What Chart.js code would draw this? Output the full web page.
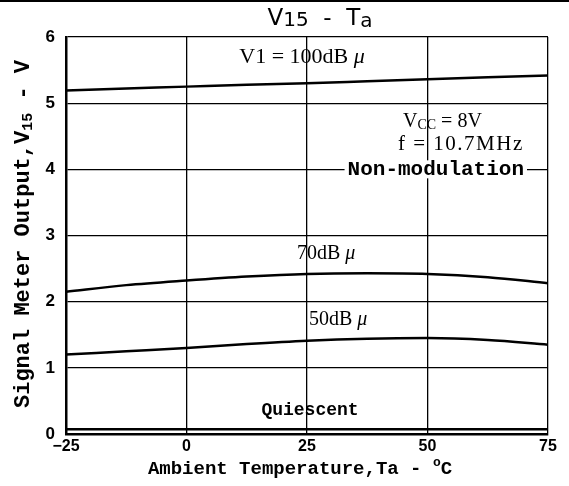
<html>
<head>
<meta charset="utf-8">
<title>V15 - Ta</title>
<script src="https://cdn.jsdelivr.net/npm/chart.js@4.4.1/dist/chart.umd.min.js"></script>
<style>
body { margin: 0; background: #fff; }
#c { display: block; }
</style>
</head>
<body>
<canvas id="c" width="569" height="486"></canvas>
<script>
// temperatures (deg C) and meter output (V)
const temps = [-25, -12.5, 0, 12.5, 25, 37.5, 50, 62.5, 75];
const v100dB = [5.19, 5.22, 5.25, 5.28, 5.30, 5.33, 5.36, 5.39, 5.42];
const v70dB = [2.15, 2.25, 2.32, 2.38, 2.42, 2.43, 2.42, 2.37, 2.28];
const v50dB = [1.20, 1.25, 1.30, 1.36, 1.41, 1.44, 1.45, 1.42, 1.35];
const vQuiescent = [0.07, 0.07, 0.07, 0.07, 0.07, 0.07, 0.07, 0.07, 0.07];
const xTicks = [-25, 0, 25, 50, 75];
const yTicks = [0, 1, 2, 3, 4, 5, 6];

function pts(ys) {
    return temps.map((t, i) => ({x: t, y: ys[i]}));
}

// draw a run of text pieces, some raised or lowered
function runs(ctx, parts, x, y, align) {
    let total = 0;
    for (let p of parts) {
        ctx.font = p.font;
        total += ctx.measureText(p.t).width;
    }
    let cx = align === 'center' ? x - total / 2 : (align === 'right' ? x - total : x);
    for (let p of parts) {
        ctx.font = p.font;
        ctx.fillText(p.t, cx, y + (p.dy || 0));
        cx += ctx.measureText(p.t).width;
    }
}

const MONO = 'bold 19px "Liberation Mono"';
const MONO_S = 'bold 13px "Liberation Mono"';
const SERIF = '20px "Liberation Serif"';
const SERIF_S = '14px "Liberation Serif"';

const labels = {
    id: 'labels',
    afterDraw(chart) {
        const ctx = chart.ctx;
        const ys = chart.scales.y;
        ctx.save();
        ctx.fillStyle = '#000';
        ctx.textBaseline = 'middle';

        // scan edge line at the very top
        ctx.fillRect(0, 0, 569, 2);

        // title
        runs(ctx, [
            {t: 'V', font: '23px "DejaVu Sans"'},
            {t: '15', font: '20px "DejaVu Sans"', dy: 2},
            {t: '  -  T', font: '23px "DejaVu Sans"'},
            {t: 'a', font: '20px "DejaVu Sans"', dy: 3}
        ], 320, 19, 'center');

        // curve labels
        runs(ctx, [{t: 'V1 = 100dB ', font: '22px "Liberation Serif"'}, {t: 'μ', font: 'italic 22px "Liberation Serif"'}],
            302, 57, 'center');
        runs(ctx, [{t: '70dB ', font: SERIF}, {t: 'μ', font: 'italic ' + SERIF}],
            297, 254, 'left');
        runs(ctx, [{t: '50dB ', font: SERIF}, {t: 'μ', font: 'italic ' + SERIF}],
            309, 320, 'left');
        ctx.font = 'bold 18px "Liberation Mono"';
        ctx.textAlign = 'center';
        ctx.fillText('Quiescent', 310, 410);
        ctx.textAlign = 'left';

        // conditions box
        runs(ctx, [
            {t: 'V', font: SERIF},
            {t: 'CC', font: SERIF_S, dy: 3},
            {t: ' = 8V', font: SERIF}
        ], 403, 122, 'left');
        ctx.letterSpacing = '1.5px';
        runs(ctx, [{t: 'f = 10.7MHz', font: '21px "Liberation Serif"'}],
            398, 144, 'left');
        ctx.letterSpacing = '0px';
        ctx.font = 'bold 21px "Liberation Mono"';
        const nm = 'Non-modulation';
        const w = ctx.measureText(nm).width;
        const nx = 524 - w;
        const ny = ys.getPixelForValue(4);
        ctx.fillStyle = '#fff';
        ctx.fillRect(nx - 3, ny - 9, w + 6, 18);
        ctx.fillStyle = '#000';
        ctx.fillText(nm, nx, ny);

        // axis titles
        runs(ctx, [
            {t: 'Ambient Temperature,Ta - ', font: MONO},
            {t: 'o', font: MONO_S, dy: -6},
            {t: 'C', font: MONO}
        ], 300, 469, 'center');

        ctx.translate(23, 234);
        ctx.rotate(-Math.PI / 2);
        runs(ctx, [
            {t: 'Signal Meter Output,V', font: 'bold 22px "Liberation Mono"'},
            {t: '15', font: 'bold 15px "Liberation Mono"', dy: 5},
            {t: ' - V', font: 'bold 22px "Liberation Mono"'}
        ], 0, 0, 'center');
        ctx.restore();
    }
};

function line(ys) {
    return {
        data: pts(ys),
        borderColor: '#000',
        borderWidth: 2.5,
        pointRadius: 0,
        cubicInterpolationMode: 'monotone',
        fill: false
    };
}

new Chart(document.getElementById('c'), {
    type: 'line',
    data: {
        datasets: [line(v100dB), line(v70dB), line(v50dB), line(vQuiescent)]
    },
    options: {
        responsive: false,
        devicePixelRatio: 1,
        animation: false,
        layout: {padding: {top: 37, right: 21, left: 0, bottom: 0}},
        plugins: {legend: {display: false}, tooltip: {enabled: false}},
        scales: {
            x: {
                type: 'linear',
                min: -25, max: 75,
                afterBuildTicks: s => { s.ticks = xTicks.map(v => ({value: v})); },
                afterFit: s => { s.height = 52; },
                ticks: {
                    color: '#000',
                    font: {family: '"Liberation Sans"', size: 16, weight: 'bold'},
                    padding: 3,
                    maxRotation: 0,
                    callback: v => v < 0 ? '\u2212' + Math.abs(v) : String(v)
                },
                grid: {color: '#000', lineWidth: 1.3, drawTicks: false},
                border: {display: true, color: '#000', width: 2.5}
            },
            y: {
                min: 0, max: 6,
                afterBuildTicks: s => { s.ticks = yTicks.map(v => ({value: v})); },
                afterFit: s => { s.width = 66; },
                ticks: {
                    color: '#000',
                    font: {family: '"Liberation Sans"', size: 17, weight: 'bold'},
                    padding: 11
                },
                grid: {color: '#000', lineWidth: 1.3, drawTicks: false},
                border: {display: true, color: '#000', width: 2.5}
            }
        }
    },
    plugins: [labels]
});
</script>
</body>
</html>
